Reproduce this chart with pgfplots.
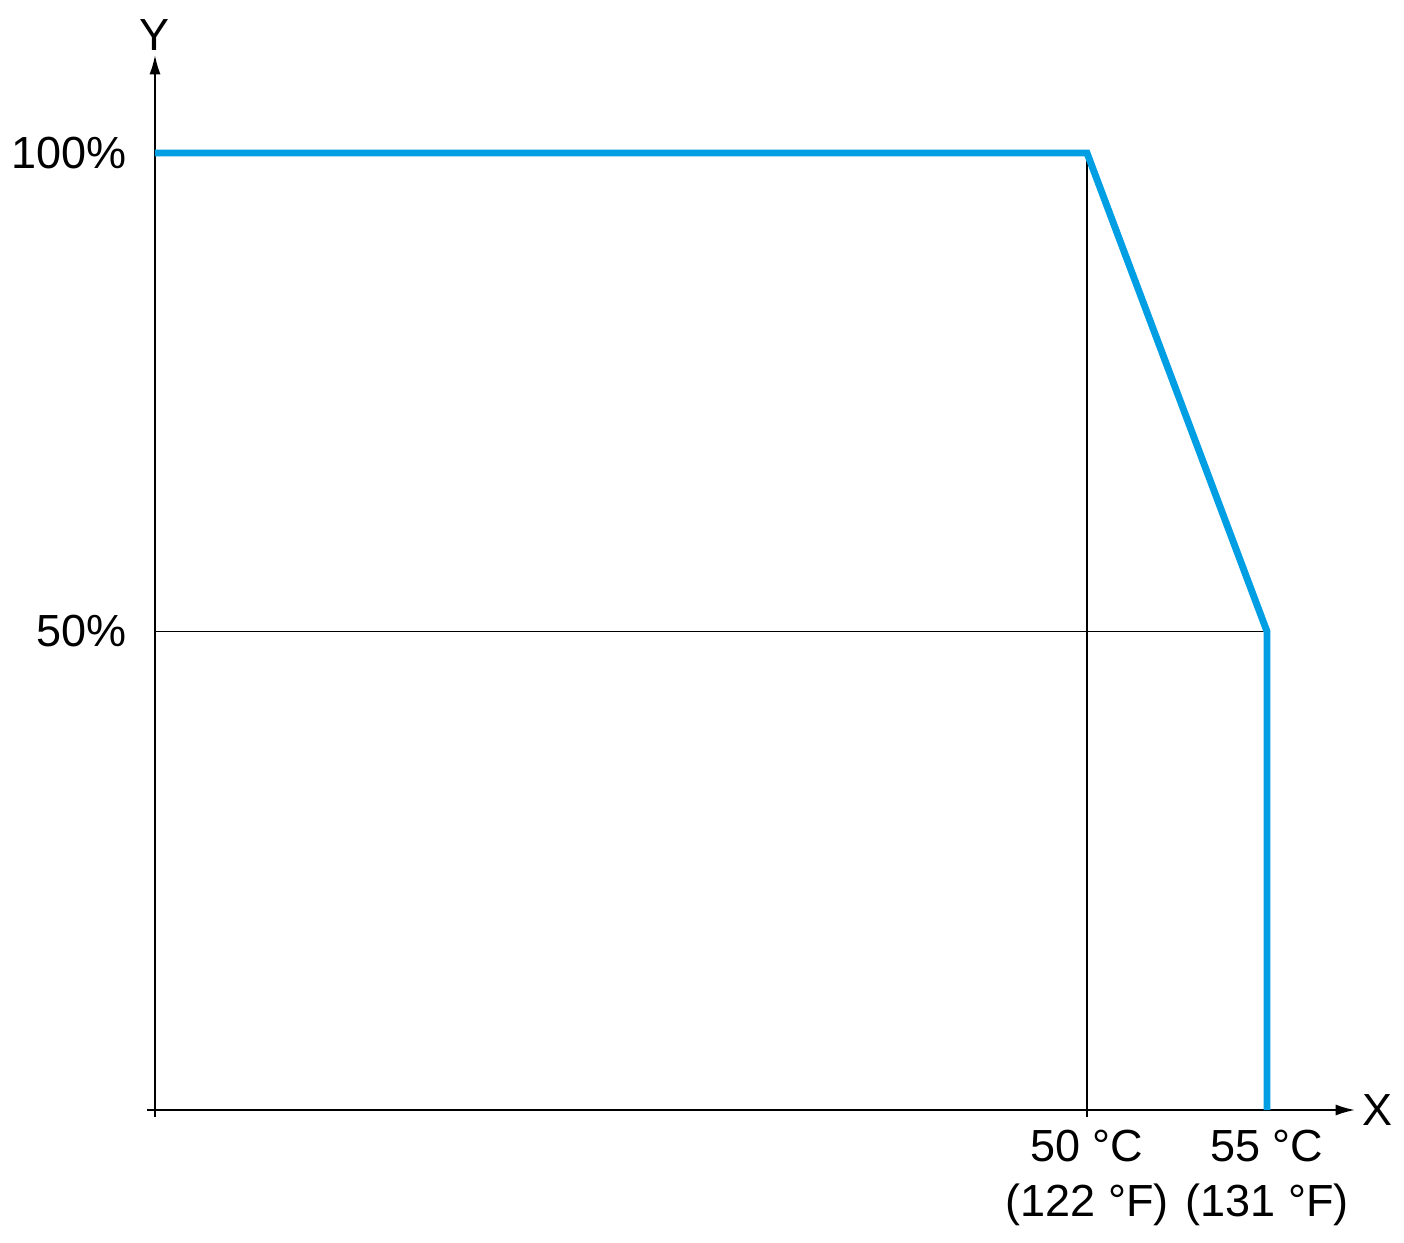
\documentclass[border=0pt]{standalone}
\usepackage{fontspec}
\setmainfont{Liberation Sans}
\usepackage{pgfplots}
\pgfplotsset{compat=1.18}
\usetikzlibrary{arrows.meta}
\definecolor{sblue}{HTML}{009FE3}
\begin{document}
\begin{tikzpicture}[x=0.36pt,y=0.36pt]
\begin{axis}[name=ax, scale only axis, width=432pt, height=379.8pt,
  xmin=0, xmax=1200, ymin=0, ymax=110.24,
  axis lines=left,
  axis line style={line width=0.7pt, -{Latex[length=7pt,width=4pt]}},
  xtick={932,1112}, xticklabels={50 °C\\(122 °F),55 °C\\(131 °F)},
  ytick={50,100}, yticklabels={50\%,100\%},
  major tick length=0pt, tick style={draw=none},
  xticklabel style={align=center, font=\fontsize{16.2}{19.8}\selectfont, inner sep=0pt, anchor=north, yshift=-7pt},
  yticklabel style={font=\fontsize{16.2}{19.8}\selectfont, inner sep=0pt, anchor=east, xshift=-10pt},
  clip=false]
\addplot[black, line width=0.7pt] coordinates {(932,-0.7) (932,100)};
\addplot[black, line width=0.7pt] coordinates {(0,50) (1112,50)};
\addplot[black, line width=0.7pt] coordinates {(-8,0) (0,0)};
\addplot[black, line width=0.7pt] coordinates {(0,-0.7) (0,0)};
\addplot[sblue, line width=2.5pt, line join=miter] coordinates {(0,100) (932,100) (1112,50) (1112,0)};
\node[font=\fontsize{16.2}{19.8}\selectfont] at (axis cs:1222,0) {X};
\node[font=\fontsize{16.2}{19.8}\selectfont] at (axis cs:0,112.3) {Y};
\end{axis}
\path (ax.south west) ++(-155,-132) rectangle ++(1404,1242);
\end{tikzpicture}
\end{document}
